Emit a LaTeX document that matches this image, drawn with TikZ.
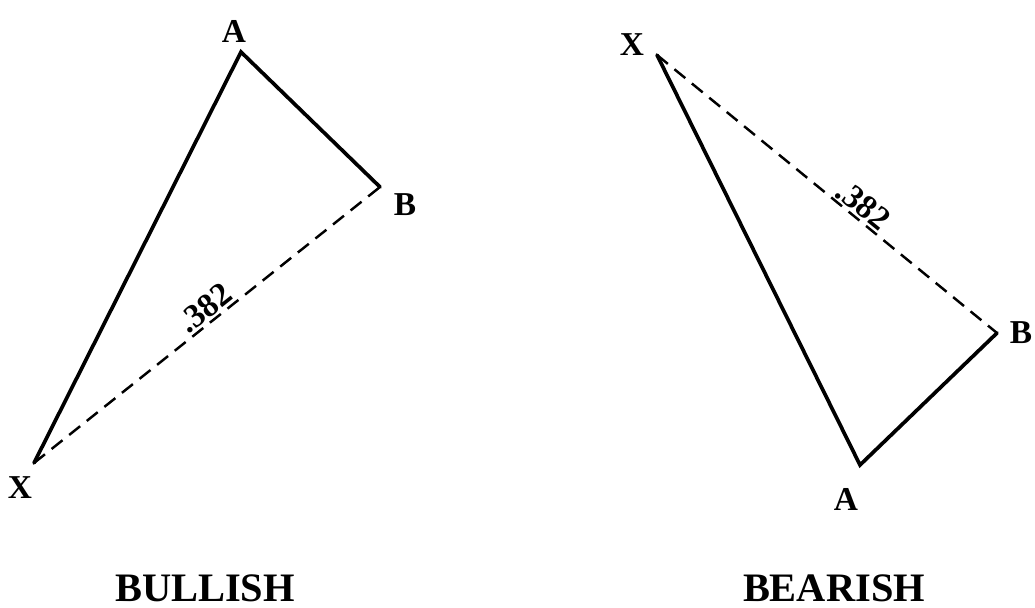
\documentclass[tikz,border=0pt]{standalone}
\usepackage{fontspec}
\setmainfont{Liberation Serif}
\usetikzlibrary{positioning}
\tikzset{
    leg/.style={line width=2.1pt, line cap=round, line join=miter},
    retrace/.style={line width=1.4pt, dash pattern=on 0.28cm off 0.17cm},
    pt/.style={font=\bfseries\fontsize{19}{21}\selectfont, inner sep=0pt},
    ratio/.style={font=\bfseries\fontsize{19}{21}\selectfont, sloped, above, inner sep=1pt},
    caption/.style={font=\bfseries\fontsize{23}{26}\selectfont, inner sep=0pt}
}
\begin{document}
\begin{tikzpicture}[x=0.2mm, y=-0.2mm]
\useasboundingbox (0,0) rectangle (1035,607);

% Bullish points
\coordinate (bX) at (34,463);
\coordinate (bA) at (241,52);
\coordinate (bB) at (380,187);
\node[pt] (bXl) at (20,488) {X};
\node[pt] (bAl) at (234,31) {A};
\node[pt] (bBl) at (405,205) {B};

% Bearish points
\coordinate (sX) at (657,55);
\coordinate (sA) at (860,465);
\coordinate (sB) at (997,333);
\node[pt] (sXl) at (632,45) {X};
\node[pt] (sAl) at (846,499) {A};
\node[pt] (sBl) at (1021,333) {B};

% Legs
\draw[leg] (bX) -- (bA) -- (bB);
\draw[leg] (sX) -- (sA) -- (sB);

% Retracements
\draw[retrace] (bX) -- node[ratio, pos=0.52] {.382} (bB);
\draw[retrace] (sX) -- node[ratio, pos=0.58] {.382} (sB);

% Captions
\node[caption] (bull) at (205,588) {BULLISH};
\node[caption] (bear) at (834,588) {BEARISH};

\end{tikzpicture}
\end{document}
